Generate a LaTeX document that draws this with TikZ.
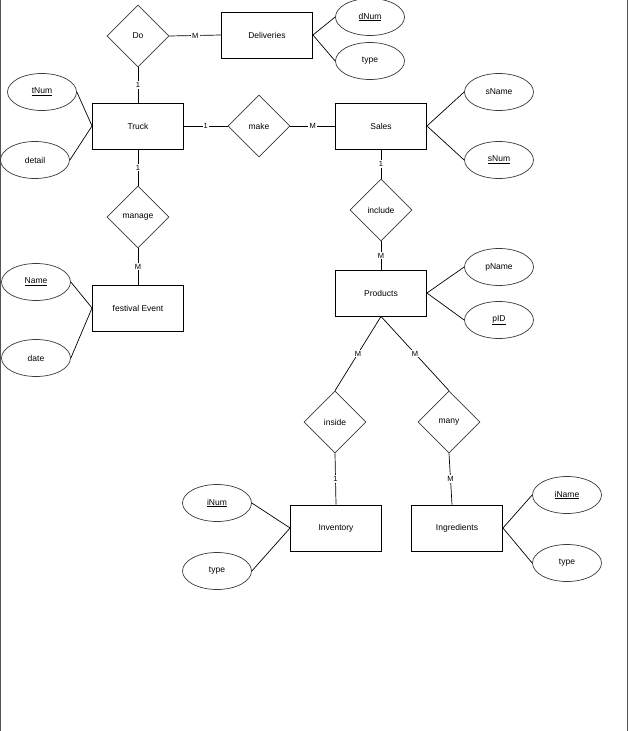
\documentclass[tikz,border=0pt]{standalone}
\usepackage{fontspec}
\setmainfont{Liberation Sans}
\usetikzlibrary{shapes.geometric}
\definecolor{shapegray}{HTML}{3A3A3A}
\definecolor{pageline}{HTML}{555555}

\tikzset{
  entity/.style={draw, line width=0.9pt, minimum width=91pt, minimum height=46pt, inner sep=0pt},
  relation/.style={draw=shapegray, line width=0.7pt, diamond, aspect=1, minimum width=62pt, minimum height=62pt, inner sep=0pt},
  attrib/.style={draw=shapegray, line width=0.7pt, ellipse, minimum width=69pt, minimum height=37pt, inner sep=0pt},
  card/.style={fill=white, inner sep=1.2pt, font=\fontsize{7.5}{8}\selectfont},
  link/.style={line width=0.7pt},
}

\begin{document}
\begin{tikzpicture}[x=1pt, y=-1pt, font=\fontsize{8.5}{10}\selectfont]

% Page
\useasboundingbox (0,0) rectangle (630,731);
\draw[pageline, line width=1pt] (0.5,0) -- (0.5,731);
\draw[pageline, line width=1pt] (627.5,0) -- (627.5,731);

% Entities
\node[entity] (deliv) at (267,35) {Deliveries};
\node[entity] (truck) at (138,126) {Truck};
\node[entity] (sales) at (381,126) {Sales};
\node[entity] (fest) at (138,308) {festival Event};
\node[entity] (prod) at (381,293) {Products};
\node[entity] (inv) at (336,528) {Inventory};
\node[entity] (ingr) at (457,528) {Ingredients};

% Relationships
\node[relation] (do) at (138,36) {Do};
\node[relation] (make) at (259,126) {make};
\node[relation] (manage) at (138,217) {manage};
\node[relation] (include) at (381,210) {include};
\node[relation] (inside) at (335,422) {inside};
\node[relation] (many) at (449,422) {many};

% Attributes
\node[attrib] (dnum) at (370,17) {\underline{dNum}};
\node[attrib] (dtype) at (370,61) {type};
\node[attrib] (tnum) at (42,92) {\underline{tNum}};
\node[attrib] (detail) at (35,160) {detail};
\node[attrib] (sname) at (499,92) {sName};
\node[attrib] (snum) at (499,160) {\underline{sNum}};
\node[attrib] (ename) at (36,282) {\underline{Name}};
\node[attrib] (edate) at (36,358) {date};
\node[attrib] (pname) at (499,267) {pName};
\node[attrib] (pid) at (499,320) {\underline{pID}};
\node[attrib] (inum) at (217,503) {\underline{iNum}};
\node[attrib] (itype) at (217,571) {type};
\node[attrib] (iname) at (567,495) {\underline{iName}};
\node[attrib] (gtype) at (567,563) {type};

% Attribute links
\draw[link] (deliv.east) -- (dnum.west);
\draw[link] (deliv.east) -- (dtype.west);
\draw[link] (truck.west) -- (tnum.east);
\draw[link] (truck.west) -- (detail.east);
\draw[link] (sales.east) -- (sname.west);
\draw[link] (sales.east) -- (snum.west);
\draw[link] (fest.west) -- (ename.east);
\draw[link] (fest.west) -- (edate.east);
\draw[link] (prod.east) -- (pname.west);
\draw[link] (prod.east) -- (pid.west);
\draw[link] (inv.west) -- (inum.east);
\draw[link] (inv.west) -- (itype.east);
\draw[link] (ingr.east) -- (iname.west);
\draw[link] (ingr.east) -- (gtype.west);

% Relationship links with cardinality
\draw[link] (do.east) -- node[card] (cdo1) {M} (deliv.west);
\draw[link] (do.south) -- node[card] (cdo2) {1} (truck.north);
\draw[link] (truck.east) -- node[card] (cmk1) {1} (make.west);
\draw[link] (make.east) -- node[card] (cmk2) {M} (sales.west);
\draw[link] (truck.south) -- node[card] (cmg1) {1} (manage.north);
\draw[link] (manage.south) -- node[card] (cmg2) {M} (fest.north);
\draw[link] (sales.south) -- node[card] (cin1) {1} (include.north);
\draw[link] (include.south) -- node[card] (cin2) {M} (prod.north);
\draw[link] (prod.south) -- node[card] (cis1) {M} (inside.north);
\draw[link] (prod.south) -- node[card] (cmy1) {M} (many.north);
\draw[link] (inside.south) -- node[card] (cis2) {1} (inv.north);
\draw[link] (many.south) -- node[card] (cmy2) {M} ([xshift=-5pt]ingr.north);

\end{tikzpicture}
\end{document}
